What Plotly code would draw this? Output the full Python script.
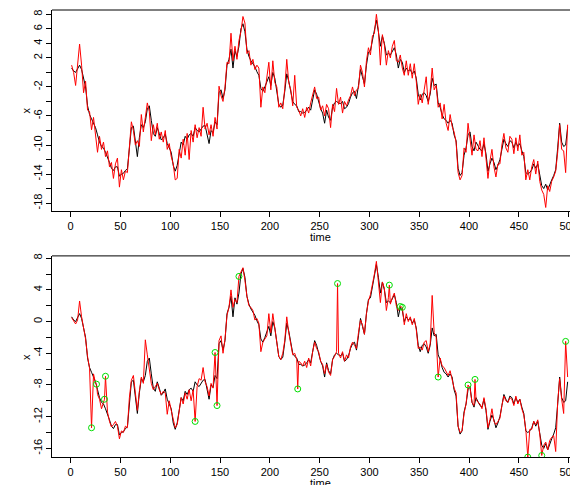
import plotly.graph_objects as go

# time grid (every second step of the 500-step series)
t_grid = list(range(1, 500, 2))

# underlying state (black), same in both panels
state_x = [
    0.6, 0.2, 0.0, 0.5, 1.0, 0.4, -0.8, -2.0, -4.6, -5.8,
    -6.4, -6.9, -7.6, -8.6, -9.6, -10.2, -10.4, -11.0, -11.6, -12.4,
    -13.2, -13.5, -13.0, -13.0, -14.3, -14.0, -13.9, -13.5, -13.3, -9.8,
    -7.6, -7.4, -9.3, -11.6, -9.0, -7.2, -7.6, -6.8, -5.0, -4.6,
    -6.6, -8.4, -8.8, -7.6, -8.4, -9.3, -9.0, -8.5, -9.8, -10.4,
    -11.0, -12.8, -13.6, -12.8, -11.0, -9.6, -10.0, -8.8, -9.2, -8.6,
    -8.4, -8.8, -7.6, -8.0, -8.2, -7.8, -7.4, -7.3, -8.4, -9.8,
    -8.0, -8.3, -6.8, -7.2, -2.8, -2.4, -3.6, -2.4, 1.0, 1.8,
    3.2, 0.6, 3.0, 2.2, 3.6, 6.0, 6.7, 5.6, 3.2, 2.2,
    1.6, 1.2, 0.8, 0.1, -0.4, -2.2, -2.6, -2.0, -1.3, -0.6,
    -1.8, 0.0, -0.8, -2.4, -4.4, -4.8, -4.5, -2.6, -0.2, -1.2,
    -2.8, -4.0, -4.4, -4.6, -5.4, -5.4, -5.6, -5.5, -5.2, -4.8,
    -5.2, -3.6, -2.4, -3.0, -4.0, -5.0, -5.6, -7.0, -5.2, -6.2,
    -6.6, -4.8, -4.2, -4.0, -4.2, -4.3, -4.0, -5.0, -4.8, -4.3,
    -3.4, -2.8, -2.6, -3.6, -1.8, 0.4, -0.6, -1.6, 1.0, 2.8,
    3.0, 4.6, 5.8, 7.2, 5.6, 3.6, 5.0, 4.0, 2.4, 2.6,
    2.4, 3.0, 3.4, 2.4, 0.6, 1.8, 1.4, 0.0, 0.6, 0.2,
    0.4, -0.2, 0.2, -0.8, -3.0, -3.8, -3.0, -2.8, -3.2, -4.0,
    -3.0, -0.8, -1.8, -1.6, -4.2, -4.8, -5.8, -6.4, -6.6, -7.0,
    -6.6, -7.0, -8.6, -9.4, -13.2, -14.2, -13.8, -11.4, -10.4, -8.6,
    -8.2, -10.2, -10.8, -9.6, -10.2, -10.6, -10.8, -9.8, -11.2, -13.6,
    -12.6, -11.8, -12.4, -13.4, -12.8, -12.0, -10.6, -9.2, -9.8, -10.2,
    -9.4, -9.6, -10.4, -9.6, -10.2, -9.8, -10.8, -11.6, -13.8, -14.0,
    -13.8, -13.4, -12.6, -13.2, -12.6, -14.0, -15.6, -16.0, -15.4, -16.2,
    -15.4, -14.8, -14.2, -13.4, -10.4, -7.0, -9.6, -10.2, -10.0, -7.6,
]

# noisy observations (red, top panel)
obs_top = [
    1.0, 0.0, -1.8, 1.2, 3.9, 1.0, -2.8, -1.2, -5.2, -5.4,
    -7.9, -6.2, -8.6, -11.0, -8.8, -10.6, -9.6, -11.6, -10.8, -13.0,
    -12.4, -14.6, -12.6, -11.8, -15.8, -13.4, -14.8, -13.6, -13.8, -10.4,
    -6.8, -8.0, -10.0, -9.4, -10.2, -5.8, -8.2, -6.2, -4.2, -5.4,
    -9.4, -7.2, -8.6, -7.0, -9.2, -8.2, -9.6, -8.0, -10.6, -9.8,
    -11.6, -12.6, -14.8, -14.6, -10.6, -11.8, -9.2, -11.4, -8.4, -12.0,
    -8.0, -9.6, -7.2, -9.0, -7.6, -8.8, -4.8, -7.8, -7.0, -8.6,
    -7.2, -8.8, -6.2, -7.8, -1.9, -3.2, -4.0, -2.0, 1.4, 1.2,
    5.4, 1.6, 3.6, 1.8, 4.4, 5.6, 7.7, 6.8, 2.6, 3.0,
    1.0, 1.8, 0.4, 1.0, 0.6, -4.8, -2.0, -2.8, -0.8, 1.4,
    -2.4, 1.6, -1.4, -2.0, -4.8, -4.2, -5.0, -2.2, 1.8, -1.4,
    -2.4, -4.6, -0.4, -4.8, -5.2, -6.0, -5.0, -6.2, -4.8, -5.6,
    -4.2, -3.2, -2.0, -3.6, -3.4, -5.2, -4.6, -6.0, -4.4, -5.0,
    -7.6, -4.4, -5.4, -2.2, -4.4, -3.4, -5.6, -4.0, -4.6, -3.8,
    -3.2, -2.0, -3.2, -2.4, -2.2, 1.0, 0.0, -2.0, 1.6, 3.4,
    2.4, 5.0, 5.4, 8.0, 5.8, 1.0, 5.2, 3.8, 1.0, 3.0,
    2.0, 3.6, 4.4, 1.6, 1.4, 2.4, 0.6, -0.4, 1.6, -0.4,
    1.2, -0.8, 1.2, -1.2, -4.4, -3.0, -4.2, -2.4, -0.6, -4.4,
    -2.6, 0.6, -2.4, -1.8, -4.8, -4.2, -6.4, -4.4, -7.0, -8.0,
    -5.8, -7.4, -8.2, -9.6, -13.8, -14.8, -14.2, -10.4, -11.0, -7.0,
    -9.2, -11.4, -8.6, -10.6, -10.8, -9.4, -11.6, -9.0, -11.8, -14.6,
    -12.2, -10.6, -13.0, -14.4, -12.6, -12.6, -10.0, -8.4, -10.4, -11.0,
    -8.8, -9.2, -11.2, -9.0, -10.8, -8.6, -11.4, -11.0, -14.8, -13.4,
    -14.8, -13.0, -12.0, -14.0, -12.2, -15.0, -16.2, -16.8, -18.6, -15.6,
    -16.4, -15.0, -14.4, -13.6, -11.0, -7.2, -10.6, -10.8, -13.8, -7.2,
]

# observations with outliers (red, bottom panel) - regular part
obs_bottom = [
    0.5, 0.1, -0.3, 0.2, 2.6, 0.6, -0.9, -2.2, -4.4, -5.9,
    -6.2, -6.6, -7.8, -9.2, -9.8, -11.0, -10.2, -10.6, -11.4, -12.6,
    -13.3, -13.0, -12.6, -13.2, -14.8, -13.8, -14.0, -13.2, -13.4, -9.6,
    -7.4, -6.8, -9.4, -11.2, -8.8, -7.0, -7.8, -2.3, -4.2, -6.4,
    -7.8, -8.6, -8.2, -7.8, -8.6, -9.2, -8.8, -9.0, -11.7, -10.0,
    -11.2, -12.4, -13.4, -13.0, -11.2, -9.6, -10.4, -9.0, -9.8, -8.6,
    -10.0, -8.6, -8.4, -8.2, -7.2, -7.4, -5.8, -7.6, -8.2, -9.4,
    -7.8, -8.4, -6.6, -7.0, -2.4, -1.8, -4.0, -2.2, 0.8, 1.8,
    4.0, 1.8, 2.8, 2.4, 4.0, 6.2, 6.8, 5.2, 3.2, 2.0,
    1.8, 1.4, 0.2, 0.4, -0.2, -3.8, -2.6, -2.2, -1.8, 1.0,
    -1.4, 1.0, -1.0, -2.4, -4.4, -4.8, -4.0, -2.4, 0.6, -1.4,
    -3.0, -4.2, -4.0, -4.8, -5.0, -5.2, -5.6, -5.0, -5.8, -4.6,
    -5.6, -3.8, -2.6, -3.4, -3.8, -5.0, -5.4, -6.6, -5.4, -6.4,
    -6.8, -4.8, -4.4, -3.8, -4.0, -4.6, -3.8, -5.0, -4.2, -4.6,
    -3.2, -2.6, -3.0, -3.4, -1.4, 0.2, -0.4, -1.6, 1.0, 2.6,
    3.4, 4.6, 6.0, 7.6, 5.4, 2.4, 5.0, 4.2, 1.4, 3.0,
    2.2, 3.0, 3.6, 2.0, 1.4, 1.6, 1.4, -0.4, 1.0, 0.0,
    0.6, -0.4, 0.4, -1.0, -3.4, -3.2, -3.6, -2.6, -2.4, -3.8,
    -2.8, 3.3, -1.4, -2.0, -5.0, -4.6, -5.6, -5.8, -6.4, -6.8,
    -6.2, -7.2, -8.4, -9.0, -13.2, -14.0, -13.8, -11.6, -10.4, -8.6,
    -8.4, -10.2, -10.6, -9.8, -10.2, -10.4, -11.0, -9.6, -11.0, -13.4,
    -12.4, -11.0, -12.6, -13.0, -12.6, -12.2, -10.6, -9.4, -10.0, -10.2,
    -9.6, -9.8, -10.6, -9.4, -10.4, -9.8, -11.0, -11.8, -13.6, -14.2,
    -13.6, -13.6, -12.6, -13.0, -12.4, -14.2, -15.2, -15.6, -15.2, -16.2,
    -15.0, -14.6, -14.4, -16.4, -10.2, -7.2, -9.8, -11.6, -10.0, -7.0,
]

# flagged outliers (green circles)
outlier_t = [21, 26, 34, 35, 125, 145, 147, 169, 228, 268, 320, 331, 333,
             369, 399, 406, 459, 473, 497]
outlier_v = [-13.4, -7.9, -9.8, -6.9, -12.6, -3.9, -10.6, 5.7, -8.5, 4.8, 4.6,
             1.9, 1.8, -7.0, -8.0, -7.3, -17.1, -16.9, -2.5]

x_ticks = [0, 50, 100, 150, 200, 250, 300, 350, 400, 450, 500]
y1_ticks = list(range(-18, 9, 2))
y1_labels = ["8", "6", "4", "2", "-2", "-6", "-10", "-14", "-18"]
y2_ticks = list(range(-16, 9, 2))
y2_labels = ["8", "4", "0", "-4", "-8", "-12", "-16"]

# merge bottom observations with the outliers
merged = dict(zip(t_grid, obs_bottom))
for t, v in zip(outlier_t, outlier_v):
    merged[t] = v
bt = sorted(merged)
bv = [merged[t] for t in bt]

RED = "#FF0000"
FONT = "Liberation Sans, Arial, sans-serif"

fig = go.Figure()
fig.add_trace(go.Scatter(x=t_grid, y=state_x, mode="lines",
                         line=dict(color="black", width=1), xaxis="x", yaxis="y"))
fig.add_trace(go.Scatter(x=t_grid, y=obs_top, mode="lines",
                         line=dict(color=RED, width=1), xaxis="x", yaxis="y"))
fig.add_trace(go.Scatter(x=t_grid, y=state_x, mode="lines",
                         line=dict(color="black", width=1), xaxis="x2", yaxis="y2"))
fig.add_trace(go.Scatter(x=bt, y=bv, mode="lines",
                         line=dict(color=RED, width=1), xaxis="x2", yaxis="y2"))
fig.add_trace(go.Scatter(x=outlier_t, y=outlier_v, mode="markers",
                         marker=dict(symbol="circle-open", size=6,
                                     line=dict(color="#00DD00", width=1), color="#00DD00"),
                         xaxis="x2", yaxis="y2"))

def lab(vals, labels):
    out = []
    for v in vals:
        s = str(v)
        out.append(s if s in labels else "")
    return out

xcommon = dict(range=[-18.7, 509.4], tickvals=x_ticks, ticks="outside", ticklen=5,
               tickwidth=1, tickcolor="black", showline=True, linecolor="black",
               linewidth=1, showgrid=False, zeroline=False,
               tickfont=dict(family=FONT, size=11, color="black"))
ycommon = dict(ticks="outside", ticklen=5, tickwidth=1, tickcolor="black",
               showline=True, linecolor="black", linewidth=1, showgrid=False,
               zeroline=False, tickangle=-90,
               tickfont=dict(family=FONT, size=11, color="black"))

# the page body adds an 8px offset; the figure is sized to fill the window
fig.update_layout(
    width=570, height=477,
    margin=dict(l=44, r=0, t=0, b=28),
    paper_bgcolor="white", plot_bgcolor="white",
    showlegend=False,
    xaxis=dict(domain=[0, 1], anchor="y", **xcommon),
    yaxis=dict(domain=[0.5501, 1.0], anchor="x", range=[-19.1, 8.594],
               tickvals=y1_ticks, ticktext=lab(y1_ticks, y1_labels), **ycommon),
    xaxis2=dict(domain=[0, 1], anchor="y2", **xcommon),
    yaxis2=dict(domain=[0, 0.4499], anchor="x2", range=[-17.09, 8.29],
                tickvals=y2_ticks, ticktext=lab(y2_ticks, y2_labels), **ycommon),
    shapes=[
        dict(type="line", xref="paper", x0=0, x1=1, yref="y domain", y0=1, y1=1,
             line=dict(color="black", width=1)),
        dict(type="line", xref="paper", x0=0, x1=1, yref="y2 domain", y0=1, y1=1,
             line=dict(color="black", width=1)),
    ],
    annotations=[
        dict(text="x", xref="paper", yref="paper", x=-0.0485, y=0.7762,
             textangle=-90, showarrow=False, xanchor="center", yanchor="middle",
             font=dict(family=FONT, size=11, color="black")),
        dict(text="x", xref="paper", yref="paper", x=-0.0485, y=0.2249,
             textangle=-90, showarrow=False, xanchor="center", yanchor="middle",
             font=dict(family=FONT, size=11, color="black")),
        dict(text="time", xref="x", yref="paper", x=250.5, y=0.4911,
             showarrow=False, xanchor="center", yanchor="middle",
             font=dict(family=FONT, size=11, color="black")),
        dict(text="time", xref="x2", yref="paper", x=250.5, y=-0.0575,
             showarrow=False, xanchor="center", yanchor="middle",
             font=dict(family=FONT, size=11, color="black")),
    ],
)

fig.write_html("out.html")
